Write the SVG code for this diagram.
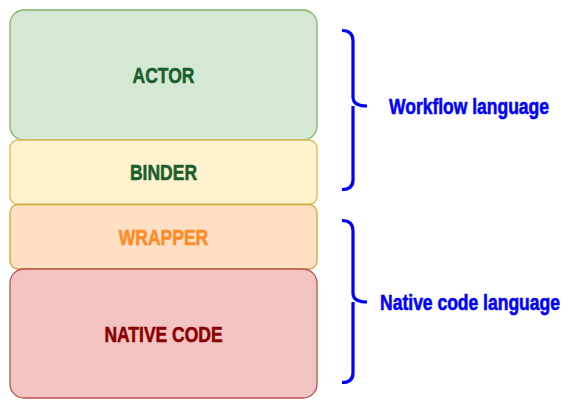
<svg xmlns="http://www.w3.org/2000/svg" width="570" height="420" viewBox="0 0 570 420">
<style>
  .box { stroke-width: 1.3; }
  .lbl { font-family: "Liberation Sans", Arial, sans-serif; font-weight: bold; font-size: 17.5px; text-anchor: middle; stroke-width: 0.45; }
  .brace { fill: none; stroke: #0000ff; stroke-width: 3.2; stroke-linecap: butt; stroke-linejoin: round; }
  .blue { fill: #0000ff; stroke: #0000ff; }
</style>
<rect width="570" height="420" fill="#ffffff"/>
<g id="actor">
  <rect class="box" x="10" y="10" width="307" height="130" rx="14" ry="14" fill="#d5e8d4" stroke="#82b366"/>
  <text class="lbl" transform="translate(163.5,83) scale(1,1.26)" fill="#1b5e2e" stroke="#1b5e2e">ACTOR</text>
</g>
<g id="binder">
  <rect class="box" x="10" y="140" width="307" height="64.5" rx="8" ry="8" fill="#fff2cc" stroke="#d6b656"/>
  <text class="lbl" transform="translate(163.5,180) scale(1,1.26)" fill="#1b5e2e" stroke="#1b5e2e">BINDER</text>
</g>
<g id="wrapper">
  <rect class="box" x="10" y="204.5" width="307" height="64.5" rx="8" ry="8" fill="#ffe0c2" stroke="#d6a33a"/>
  <text class="lbl" transform="translate(163.5,245) scale(1,1.26)" fill="#ff8a26" stroke="#ff8a26">WRAPPER</text>
</g>
<g id="native">
  <rect class="box" x="10" y="269" width="307" height="129" rx="14" ry="14" fill="#f4c4c2" stroke="#b85450"/>
  <text class="lbl" transform="translate(163.5,342) scale(1,1.26)" fill="#8b0000" stroke="#8b0000">NATIVE CODE</text>
</g>
<g id="connectors">
  <path class="brace" d="M342,30.5 Q353,30.5 353,41 L353,97 Q353,106 367,106 M353,106 Q353,106 353,115 L353,180 Q353,189.5 342,189.5"/>
  <path class="brace" d="M342,220.5 Q353,220.5 353,231 L353,293 Q353,302 367,302 M353,302 Q353,302 353,311 L353,373 Q353,382.5 342,382.5"/>
</g>
<g id="workflow-label">
  <text class="lbl blue" transform="translate(469,114) scale(1,1.26)">Workflow language</text>
</g>
<g id="native-label">
  <text class="lbl blue" transform="translate(470,310) scale(1,1.26)">Native code language</text>
</g>
</svg>
